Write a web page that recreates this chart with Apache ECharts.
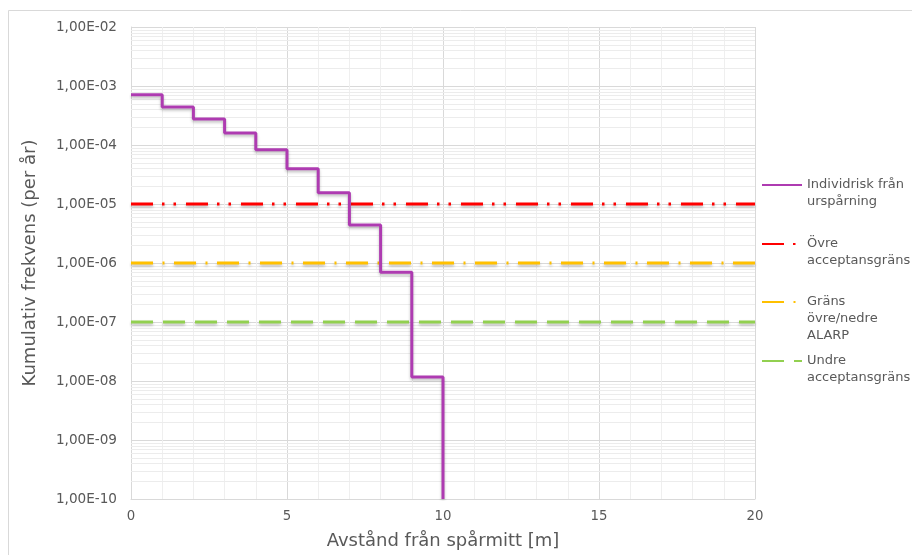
<!DOCTYPE html>
<html>
<head>
<meta charset="utf-8">
<script src="https://cdn.jsdelivr.net/npm/echarts@6/dist/echarts.min.js"></script>
<style>
html,body{margin:0;padding:0;background:#fff;}
#chart{width:912px;height:555px;}
</style>
</head>
<body>
<div id="chart"></div>
<script>
// ---- data ----
var stepX = [0, 1, 2, 3, 4, 5, 6, 7, 8, 9, 10];
var riskValues = [7.1e-4, 4.4e-4, 2.75e-4, 1.6e-4, 8.3e-5, 3.95e-5, 1.55e-5, 4.4e-6, 7.0e-7, 1.17e-8, 1e-10];
var limitX = [0, 20];
var upperLimit = 1e-5;
var alarpLimit = 1e-6;
var lowerLimit = 1e-7;
var seriesNames = ['Individrisk från urspårning', 'Övre acceptansgräns', 'Gräns övre/nedre ALARP', 'Undre acceptansgräns'];
var legendLabels = ['Individrisk från\nurspårning', 'Övre\nacceptansgräns', 'Gräns\növre/nedre\nALARP', 'Undre\nacceptansgräns'];
var yMinExp = -10, yMaxExp = -2;
var xTickLabels = ['0', '5', '10', '15', '20'];

// ---- build ----
var riskData = stepX.map(function (x, i) { return [x, riskValues[i]]; });
function flat(v) { return limitX.map(function (x) { return [x, v]; }); }

var minorY = [];
for (var e = yMinExp; e < yMaxExp; e++) {
  for (var k = 2; k <= 9; k++) minorY.push([limitX[0], k * Math.pow(10, e)]);
}

var shadow = { shadowColor: 'rgba(0,0,0,0.25)', shadowBlur: 3, shadowOffsetY: 2 };
function ls(color, type) {
  return Object.assign({ color: color, width: 3, type: type, cap: 'butt' }, shadow);
}

var font = 'DejaVu Sans';
var txt = '#595959';
var L = 17;
var firstLineY = [185, 244, 302, 361];

var legends = seriesNames.map(function (n, i) {
  var lines = legendLabels[i].split('\n').length;
  var blockLines = 2 * lines - 1;
  var label = new Array(lines).join('\n') + legendLabels[i];
  return {
    data: [n],
    left: 761,
    top: firstLineY[i] - blockLines * L / 2,
    orient: 'vertical',
    padding: 0,
    itemWidth: 40,
    itemHeight: 14,
    itemGap: 0,
    selectedMode: false,
    itemStyle: { opacity: 0 },
    formatter: function () { return label; },
    textStyle: { fontFamily: font, fontSize: 13, color: txt, lineHeight: L }
  };
});

var option = {
  animation: false,
  backgroundColor: '#fff',
  textStyle: { fontFamily: font },
  graphic: [{
    type: 'polyline', silent: true,
    shape: { points: [[8.5, 600], [8.5, 10.5], [1000, 10.5]] },
    style: { fill: 'none', stroke: '#d9d9d9', lineWidth: 1 }
  }],
  grid: { left: 131, top: 27, right: 157, bottom: 55, containLabel: false },
  legend: legends,
  xAxis: {
    type: 'value', min: 0, max: 20, interval: 5,
    name: 'Avstånd från spårmitt [m]', nameLocation: 'middle', nameGap: 33,
    nameTextStyle: { fontFamily: font, fontSize: 18, color: txt },
    axisLine: { show: true, lineStyle: { color: '#d9d9d9', width: 1 } },
    axisTick: { show: false },
    axisLabel: {
      fontFamily: font, fontSize: 13.3, color: txt, margin: 11,
      formatter: function (v) { return xTickLabels[v / 5]; }
    },
    splitLine: { show: true, lineStyle: { color: '#d9d9d9', width: 1 } },
    minorTick: { show: false, splitNumber: 5 },
    minorSplitLine: { show: true, lineStyle: { color: '#efefef', width: 1 } }
  },
  yAxis: {
    type: 'log', logBase: 10, min: Math.pow(10, yMinExp), max: Math.pow(10, yMaxExp),
    name: 'Kumulativ frekvens (per år)', nameLocation: 'middle', nameGap: 92,
    nameTextStyle: { fontFamily: font, fontSize: 18, color: txt },
    axisLine: { show: true, lineStyle: { color: '#d9d9d9', width: 1 } },
    axisTick: { show: false },
    axisLabel: {
      fontFamily: font, fontSize: 13.6, color: txt, margin: 14,
      formatter: function (v) {
        var ex = Math.round(Math.log10(v));
        var a = Math.abs(ex);
        return '1,00E' + (ex < 0 ? '-' : '+') + (a < 10 ? '0' + a : '' + a);
      }
    },
    splitLine: { show: true, lineStyle: { color: '#d9d9d9', width: 1 } }
  },
  series: [
    {
      name: '__minor', type: 'custom', data: minorY, silent: true, z: 1,
      clip: true,
      renderItem: function (params, api) {
        var v = api.value(1);
        var p1 = api.coord([limitX[0], v]);
        var p2 = api.coord([limitX[1], v]);
        var y = Math.round(p1[1]) + 0.5;
        return {
          type: 'line',
          shape: { x1: p1[0], y1: y, x2: p2[0], y2: y },
          style: { stroke: '#ececec', lineWidth: 1 }
        };
      }
    },
    {
      name: seriesNames[0], type: 'line', step: 'end', data: riskData,
      symbol: 'none', z: 5, color: '#AE3BB1',
      lineStyle: ls('#AE3BB1', 'solid')
    },
    {
      name: seriesNames[1], type: 'line', data: flat(upperLimit),
      symbol: 'none', z: 4, color: '#FF0000',
      lineStyle: ls('#FF0000', [22, 9, 2.5, 9, 2.5, 10])
    },
    {
      name: seriesNames[2], type: 'line', data: flat(alarpLimit),
      symbol: 'none', z: 4, color: '#FFC000',
      lineStyle: ls('#FFC000', [22, 9.5, 2, 9.5])
    },
    {
      name: seriesNames[3], type: 'line', data: flat(lowerLimit),
      symbol: 'none', z: 4, color: '#92D050',
      lineStyle: ls('#92D050', [22, 10])
    }
  ]
};

var chart = echarts.init(document.getElementById('chart'), null, { renderer: 'canvas' });
chart.setOption(option);
</script>
</body>
</html>
